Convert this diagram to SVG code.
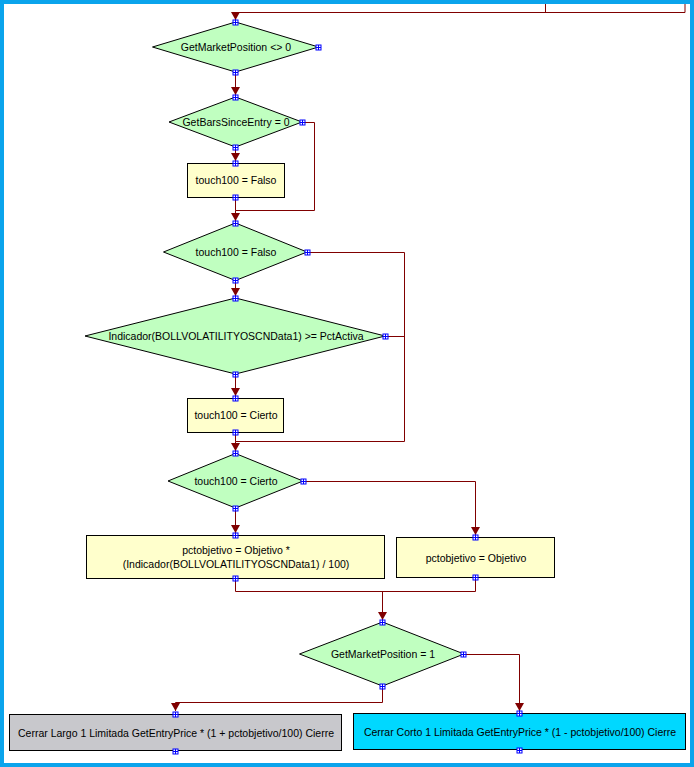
<svg xmlns="http://www.w3.org/2000/svg" xmlns:xlink="http://www.w3.org/1999/xlink" width="694" height="767" viewBox="0 0 694 767">
<style>
.dia{fill:#C0FFC0;stroke:#000;stroke-width:1}
.box{fill:#FFFFCC;stroke:#000;stroke-width:1}
.t{font-family:"Liberation Sans",Arial,sans-serif;font-size:10.5px;fill:#000;text-anchor:middle}
.c{fill:none;stroke:#800000;stroke-width:1}
.pt{fill:#fff;stroke:#0000FF;stroke-width:1}
</style>
<defs>
<marker id="ah" viewBox="0 0 8 9" refX="8" refY="4.5" markerWidth="8" markerHeight="9" markerUnits="userSpaceOnUse" orient="auto">
<path d="M0,0 L8,4.5 L0,9 z" fill="#800000"/>
</marker>
<g id="port"><rect class="pt" x="-2.5" y="-2.5" width="5" height="5"/><path d="M-2.5,0 H2.5 M0,-2.5 V2.5" stroke="#0000FF" stroke-width="1"/></g>
</defs>
<rect width="694" height="767" fill="#fff"/>
<rect x="2" y="2" width="690" height="763" fill="none" stroke="#0AA4EC" stroke-width="4"/>

<g id="connectors">
<polyline class="c" points="685,4 685,12.5 235.5,12.5 235.5,20" marker-end="url(#ah)"/>
<polyline class="c" points="545.5,4 545.5,12.5"/>
<polyline class="c" points="235.5,72 235.5,95" marker-end="url(#ah)"/>
<polyline class="c" points="235.5,147 235.5,161" marker-end="url(#ah)"/>
<polyline class="c" points="302,122.5 314.5,122.5 314.5,210.5 235.5,210.5 235.5,221" marker-end="url(#ah)"/>
<polyline class="c" points="235.5,197 235.5,210.5"/>
<polyline class="c" points="235.5,280 235.5,296" marker-end="url(#ah)"/>
<polyline class="c" points="307,252.5 404.5,252.5 404.5,441.5 235.5,441.5 235.5,451" marker-end="url(#ah)"/>
<polyline class="c" points="385,336.5 404.5,336.5"/>
<polyline class="c" points="235.5,374 235.5,396" marker-end="url(#ah)"/>
<polyline class="c" points="235.5,432 235.5,441.5"/>
<polyline class="c" points="235.5,508 235.5,533" marker-end="url(#ah)"/>
<polyline class="c" points="303,481.5 475.5,481.5 475.5,535" marker-end="url(#ah)"/>
<polyline class="c" points="235.5,578 235.5,591.5 475.5,591.5 475.5,577"/>
<polyline class="c" points="382.5,591.5 382.5,620" marker-end="url(#ah)"/>
<polyline class="c" points="464,654.5 519.5,654.5 519.5,711" marker-end="url(#ah)"/>
<polyline class="c" points="382.5,686 382.5,702.5 175.5,702.5 175.5,711" marker-end="url(#ah)"/>
</g>

<g id="n1">
<polygon class="dia" points="235.5,22 318.5,47 235.5,72 152.5,47"/>
<text class="t" x="236" y="51">GetMarketPosition &lt;&gt; 0</text>
<use xlink:href="#port" x="235.5" y="22.5"/><use xlink:href="#port" x="235.5" y="72.5"/><use xlink:href="#port" x="318.5" y="47.5"/>
</g>
<g id="n2">
<polygon class="dia" points="235.5,97 302,122 235.5,147 169,122"/>
<text class="t" x="236" y="126">GetBarsSinceEntry = 0</text>
<use xlink:href="#port" x="235.5" y="97.5"/><use xlink:href="#port" x="235.5" y="147.5"/><use xlink:href="#port" x="302.5" y="122.5"/>
</g>
<g id="n3">
<rect class="box" x="187.5" y="163.5" width="97" height="34"/>
<text class="t" x="236" y="184">touch100 = Falso</text>
<use xlink:href="#port" x="235.5" y="163.5"/><use xlink:href="#port" x="235.5" y="197.5"/>
</g>
<g id="n4">
<polygon class="dia" points="235.5,223 307,252 235.5,280.5 163.5,252"/>
<text class="t" x="236" y="256">touch100 = Falso</text>
<use xlink:href="#port" x="235.5" y="223.5"/><use xlink:href="#port" x="235.5" y="280.5"/><use xlink:href="#port" x="307.5" y="252.5"/>
</g>
<g id="n5">
<polygon class="dia" points="235.5,298 385,336 235.5,374 85,336"/>
<text class="t" x="236" y="340">Indicador(BOLLVOLATILITYOSCNData1) &gt;= PctActiva</text>
<use xlink:href="#port" x="235.5" y="298.5"/><use xlink:href="#port" x="235.5" y="374.5"/><use xlink:href="#port" x="385.5" y="336.5"/>
</g>
<g id="n6">
<rect class="box" x="187.5" y="398.5" width="96" height="34"/>
<text class="t" x="236" y="419">touch100 = Cierto</text>
<use xlink:href="#port" x="235.5" y="398.5"/><use xlink:href="#port" x="235.5" y="432.5"/>
</g>
<g id="n7">
<polygon class="dia" points="235.5,453.5 303,481 235.5,508 168,481"/>
<text class="t" x="236" y="485">touch100 = Cierto</text>
<use xlink:href="#port" x="235.5" y="453.5"/><use xlink:href="#port" x="235.5" y="508.5"/><use xlink:href="#port" x="303.5" y="481.5"/>
</g>
<g id="n8">
<rect class="box" x="86.5" y="535.5" width="298" height="43"/>
<text class="t" x="236" y="554">pctobjetivo = Objetivo *</text>
<text class="t" x="236" y="568">(Indicador(BOLLVOLATILITYOSCNData1) / 100)</text>
<use xlink:href="#port" x="235.5" y="535.5"/><use xlink:href="#port" x="235.5" y="578.5"/>
</g>
<g id="n9">
<rect class="box" x="396.5" y="537.5" width="158" height="40"/>
<text class="t" x="476" y="562">pctobjetivo = Objetivo</text>
<use xlink:href="#port" x="475.5" y="537.5"/><use xlink:href="#port" x="475.5" y="577.5"/>
</g>
<g id="n10">
<polygon class="dia" points="382.5,622 464,654 382.5,686 299.5,654"/>
<text class="t" x="383" y="658">GetMarketPosition = 1</text>
<use xlink:href="#port" x="382.5" y="622.5"/><use xlink:href="#port" x="382.5" y="686.5"/><use xlink:href="#port" x="463.5" y="654.5"/>
</g>
<g id="n11">
<rect x="9.5" y="714.5" width="332" height="36" fill="#C8C8CC" stroke="#000"/>
<text class="t" x="176" y="737">Cerrar Largo 1 Limitada GetEntryPrice * (1 + pctobjetivo/100) Cierre</text>
<use xlink:href="#port" x="175.5" y="714.5"/><use xlink:href="#port" x="175.5" y="751.5"/>
</g>
<g id="n12">
<rect x="353.5" y="713.5" width="332" height="36" fill="#00D8FF" stroke="#000"/>
<text class="t" x="520" y="736">Cerrar Corto 1 Limitada GetEntryPrice * (1 - pctobjetivo/100) Cierre</text>
<use xlink:href="#port" x="519.5" y="713.5"/><use xlink:href="#port" x="519.5" y="750.5"/>
</g>
</svg>
